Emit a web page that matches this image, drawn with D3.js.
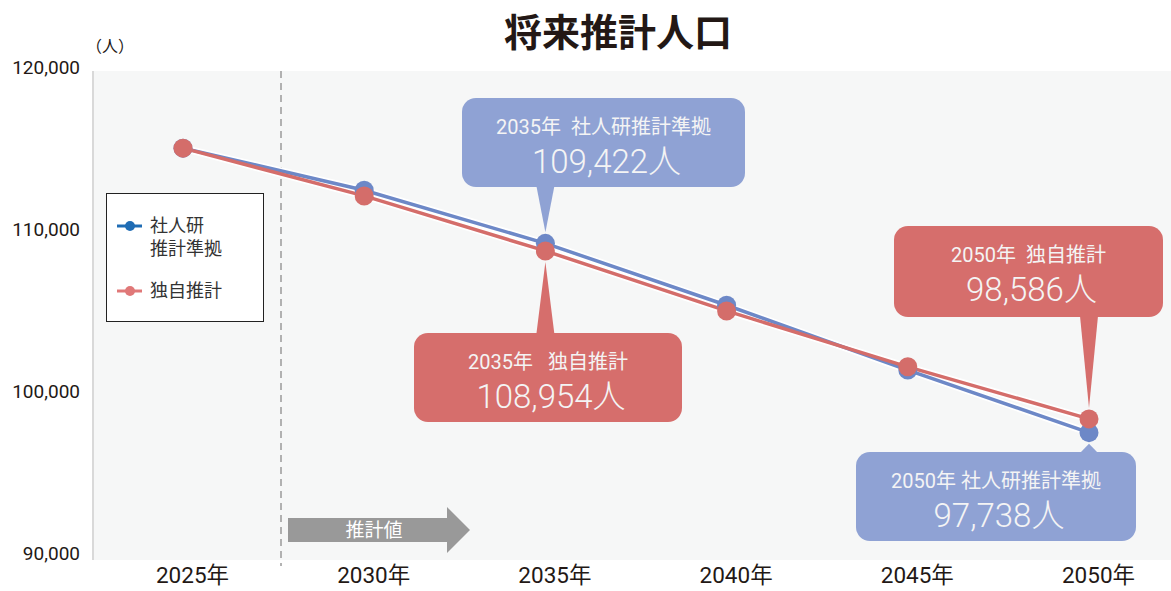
<!DOCTYPE html>
<html>
<head>
<meta charset="utf-8">
<script src="https://cdn.jsdelivr.net/npm/d3@7"></script>
<style>
  body { margin: 0; background: #fff; }
  text { font-family: Roboto, "Noto Sans CJK JP", sans-serif; }
</style>
</head>
<body>
<div id="chart-area"></div>
<script>
const W = 1171, H = 591;

// Data
const years = ["2025年", "2030年", "2035年", "2040年", "2045年", "2050年"];
const ipssValues = [115300, 112700, 109422, 105600, 101600, 97738];
const ownValues = [115300, 112350, 108954, 105250, 101800, 98586];
const yTicks = [90000, 100000, 110000, 120000];
const seriesNames = ["社人研\n推計準拠", "独自推計"];

const callouts = [
  { series: 0, idx: 2, head: "2035年  社人研推計準拠", value: "109,422人", box: [462, 98, 745, 187], dir: "down" },
  { series: 1, idx: 2, head: "2035年   独自推計", value: "108,954人", box: [414, 333, 682, 422], dir: "up" },
  { series: 1, idx: 5, head: "2050年  独自推計", value: "98,586人", box: [894, 226, 1163, 317], dir: "down" },
  { series: 0, idx: 5, head: "2050年 社人研推計準拠", value: "97,738人", box: [856, 452, 1136, 541], dir: "up" }
];

const blue = "#6d88c7", red = "#d46d6a";
const boxBlue = "#8fa2d4", boxRed = "#d66e6c";

const svg = d3.select("#chart-area").append("svg")
  .attr("width", W).attr("height", H);

const plot = { left: 93, right: 1171, top: 71, bottom: 560 };

const x = d3.scalePoint().domain(years).range([183, 1089]);
const y = d3.scaleLinear().domain([90000, 120000]).range([558, 72]);

// background
svg.append("rect")
  .attr("x", plot.left).attr("y", plot.top)
  .attr("width", plot.right - plot.left).attr("height", plot.bottom - plot.top)
  .attr("fill", "#f6f7f7");
svg.append("line")
  .attr("x1", plot.left).attr("x2", plot.left)
  .attr("y1", plot.top).attr("y2", plot.bottom)
  .attr("stroke", "#d9d9d9").attr("stroke-width", 2);

// title
svg.append("text")
  .attr("x", 618).attr("y", 46)
  .attr("text-anchor", "middle")
  .style("font-family", "'Noto Sans CJK JP'")
  .style("font-size", "38px").style("font-weight", "bold")
  .attr("fill", "#231815")
  .text("将来推計人口");

svg.append("text")
  .attr("x", 86).attr("y", 52)
  .style("font-size", "16px").attr("fill", "#231815")
  .text("（人）");

// y axis
const yAxis = d3.axisLeft(y).tickValues(yTicks).tickFormat(d3.format(",")).tickSize(0);
svg.append("g")
  .attr("transform", `translate(80,0)`)
  .call(yAxis)
  .call(g => g.select(".domain").remove())
  .call(g => g.selectAll("text")
    .attr("fill", "#231815").style("font-size", "19px")
    .attr("dy", "0.1em").attr("x", 0));

// x axis
const xAxis = d3.axisBottom(x).tickSize(0);
svg.append("g")
  .attr("transform", `translate(0,${plot.bottom})`)
  .call(xAxis)
  .call(g => g.select(".domain").remove())
  .call(g => g.selectAll("text")
    .attr("fill", "#231815").style("font-size", "22.5px")
    .attr("dx", 9).attr("dy", "0.9em"));

// dashed divider
svg.append("line")
  .attr("x1", 281).attr("x2", 281)
  .attr("y1", plot.top).attr("y2", 566)
  .attr("stroke", "#9a9a9a").attr("stroke-width", 1.5)
  .attr("stroke-dasharray", "7,5");

// 推計値 arrow
svg.append("path")
  .attr("d", "M288,518 L447,518 L447,507 L470,530 L447,553 L447,542 L288,542 Z")
  .attr("fill", "#999999");
svg.append("text")
  .attr("x", 374).attr("y", 537)
  .attr("text-anchor", "middle")
  .style("font-size", "19px").attr("fill", "#fff")
  .text("推計値");

// lines
const series = [
  { values: ipssValues, color: blue },
  { values: ownValues, color: red }
];
const line = d3.line().x((d, i) => x(years[i])).y(d => y(d));

series.forEach(s => {
  svg.append("path")
    .attr("d", line(s.values))
    .attr("fill", "none").attr("stroke", "#fff").attr("stroke-width", 7);
});
series.forEach(s => {
  svg.append("path")
    .attr("d", line(s.values))
    .attr("fill", "none").attr("stroke", s.color).attr("stroke-width", 3.5);
});
series.forEach(s => {
  svg.append("g").selectAll("circle")
    .data(s.values)
    .enter().append("circle")
    .attr("cx", (d, i) => x(years[i]))
    .attr("cy", d => y(d))
    .attr("r", 9.5)
    .attr("fill", s.color);
});

// callouts
callouts.forEach(c => {
  const [x0, y0, x1, y1] = c.box;
  const fill = c.series === 0 ? boxBlue : boxRed;
  const vals = c.series === 0 ? ipssValues : ownValues;
  const px = x(years[c.idx]);
  const py = y(vals[c.idx]);
  const g = svg.append("g");
  g.append("rect")
    .attr("x", x0).attr("y", y0)
    .attr("width", x1 - x0).attr("height", y1 - y0)
    .attr("rx", 14).attr("fill", fill);
  let tipY;
  if (c.dir === "down") {
    tipY = py - 11;
    g.append("path")
      .attr("d", `M${px - 9},${y1 - 1} L${px + 9},${y1 - 1} L${px},${tipY} Z`)
      .attr("fill", fill);
  } else {
    tipY = py + 11;
    g.append("path")
      .attr("d", `M${px - 9},${y0 + 1} L${px + 9},${y0 + 1} L${px},${tipY} Z`)
      .attr("fill", fill);
  }
  const cx = (x0 + x1) / 2;
  g.append("text")
    .attr("x", cx).attr("y", y0 + 36)
    .attr("text-anchor", "middle")
    .style("white-space", "pre")
    .style("font-size", "20px").attr("fill", "#f4f4f4")
    .text(c.head);
  g.append("text")
    .attr("x", cx + 3).attr("y", y0 + 75)
    .attr("text-anchor", "middle")
    .style("font-size", "33px").style("font-weight", 300).attr("fill", "#f4f4f4")
    .text(c.value);
});

// legend
const lg = svg.append("g");
lg.append("rect")
  .attr("x", 106.5).attr("y", 193.5)
  .attr("width", 157).attr("height", 128)
  .attr("fill", "#fff").attr("stroke", "#222").attr("stroke-width", 1);
const legendItems = [
  { name: seriesNames[0], color: "#1f6cb4", y: 226 },
  { name: seriesNames[1], color: "#e07878", y: 291 }
];
legendItems.forEach(it => {
  lg.append("line")
    .attr("x1", 117).attr("x2", 142)
    .attr("y1", it.y).attr("y2", it.y)
    .attr("stroke", it.color).attr("stroke-width", 3);
  lg.append("circle")
    .attr("cx", 130).attr("cy", it.y).attr("r", 5)
    .attr("fill", it.color);
  const t = lg.append("text")
    .attr("x", 150).attr("y", it.y + 6)
    .style("font-size", "18px").attr("fill", "#333");
  it.name.split("\n").forEach((s, i) => {
    t.append("tspan").attr("x", 150).attr("dy", i === 0 ? 0 : 23).text(s);
  });
});
</script>
</body>
</html>
